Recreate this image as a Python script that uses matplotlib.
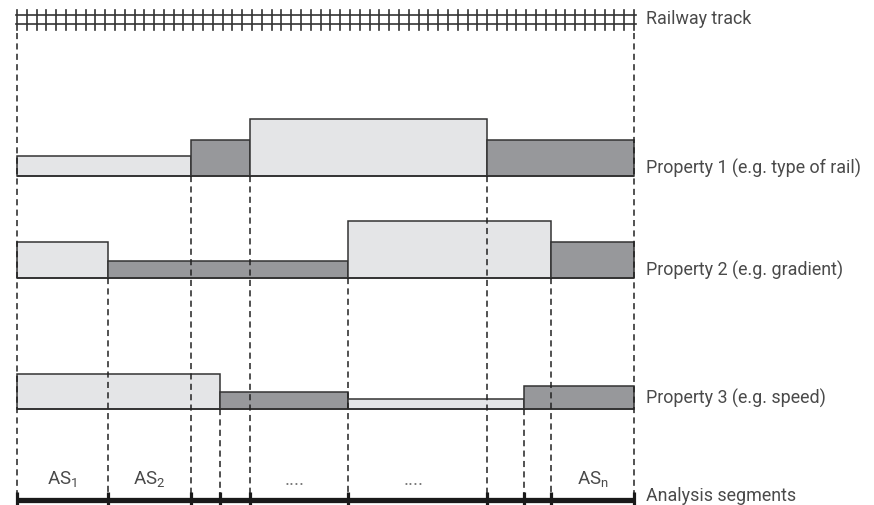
import numpy as np
import matplotlib
matplotlib.use("Agg")
import matplotlib.pyplot as plt

# ---------------- data ----------------
track_length = 617  # track units (span of the analysed section)

# boundaries of homogeneous sections for each property (track units)
prop1_bounds = [0, 174, 233, 470, 617]
prop1_levels = [20, 36, 57, 36]
prop2_bounds = [0, 91, 331, 534, 617]
prop2_levels = [36, 17, 57, 36]
prop3_bounds = [0, 203, 331, 507, 617]
prop3_levels = [35, 17, 10, 23]

prop_labels = ["Property 1 (e.g. type of rail)",
               "Property 2 (e.g. gradient)",
               "Property 3 (e.g. speed)"]
track_label = "Railway track"
segments_label = "Analysis segments"
segment_texts = [r"AS$_\mathregular{1}$", r"AS$_\mathregular{2}$", "", "", "....", "....",
                 "", "", r"AS$_\mathregular{n}$"]

# ---------------- style / layout ----------------
LIGHT = "#e4e5e7"
DARK = "#97989b"
EDGE = "#333333"
TXT = "#4a4a4a"
FONT = "Roboto"
FS = 12.9

plt.rcParams["font.family"] = [FONT, "DejaVu Sans"]

fig = plt.figure(figsize=(8.74, 5.06), dpi=100)
ax = fig.add_axes([0, 0, 1, 1])
ax.set_xlim(-17, 857)
ax.set_ylim(506, 0)
ax.axis("off")

row_base = [177, 279, 410]
rail_y = [15.5, 24.5]
tie_top, tie_bot = 10.5, 30.5
seg_y = 501
label_x = track_length + 12

props = [(prop1_bounds, prop1_levels), (prop2_bounds, prop2_levels), (prop3_bounds, prop3_levels)]

# property step bars
for (bounds, levels), base in zip(props, row_base):
    lefts = np.array(bounds[:-1])
    widths = np.diff(bounds)
    colors = [LIGHT if i % 2 == 0 else DARK for i in range(len(levels))]
    ax.bar(lefts, -np.array(levels), width=widths, bottom=base, align="edge",
           color=colors, edgecolor=EDGE, linewidth=1.1, zorder=2)
    ax.plot([0, track_length], [base, base], color=EDGE, lw=1.3, zorder=3,
            solid_capstyle="butt")

# analysis segment boundaries = union of all property boundaries
all_bounds = sorted(set(prop1_bounds) | set(prop2_bounds) | set(prop3_bounds))

# dashed guide lines
for b in all_bounds:
    if b in (0, track_length):
        y0 = 34
    else:
        y0 = None
        for (bounds, _), base in zip(props, row_base):
            if b in bounds:
                y0 = base
                break
    ax.plot([b, b], [y0, seg_y - 4], color="#222222", lw=1.1,
            linestyle=(0, (4, 2.8)), zorder=4)

# railway track
for ry in rail_y:
    ax.plot([-1, track_length + 2], [ry, ry], color=EDGE, lw=1.2, zorder=3)
for tx in np.linspace(0, track_length, 64):
    ax.plot([tx, tx], [tie_top, tie_bot], color=EDGE, lw=1.2, zorder=3)

# analysis segments line
ax.plot([0, track_length], [seg_y, seg_y], color="#1a1a1a", lw=3.8,
        solid_capstyle="butt", zorder=5)
for b in all_bounds:
    ax.plot([b, b], [seg_y - 8, seg_y + 5], color="#1a1a1a", lw=2.3,
            solid_capstyle="butt", zorder=5)

# segment labels
for i, t in enumerate(segment_texts):
    if t:
        cx = (all_bounds[i] + all_bounds[i + 1]) / 2
        if t.startswith("."):
            ax.text(cx - 4, 485, t, ha="center", va="baseline", fontsize=FS + 1,
                    color="#777777")
        else:
            ax.text(cx, 485, t, ha="center", va="baseline", fontsize=FS + 0.5,
                    color=TXT)

# right-side labels
ax.text(label_x, 24, track_label, ha="left", va="baseline", fontsize=FS, color=TXT)
for lab, yb in zip(prop_labels, [174, 276, 404]):
    ax.text(label_x, yb, lab, ha="left", va="baseline", fontsize=FS, color=TXT)
ax.text(label_x, 501, segments_label, ha="left", va="baseline", fontsize=FS, color=TXT)

fig.savefig("out.png", dpi=100)
